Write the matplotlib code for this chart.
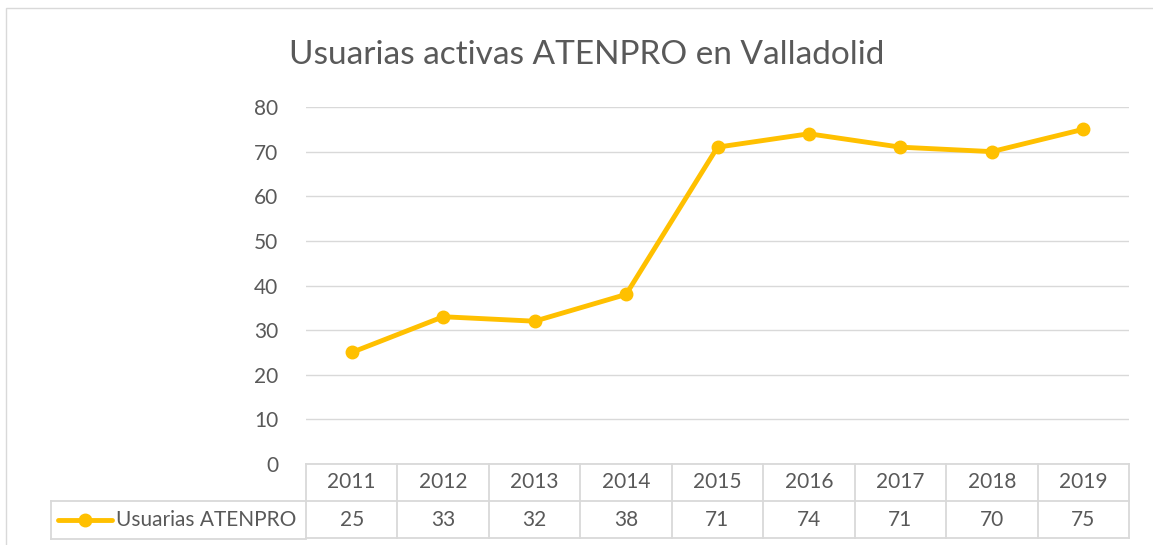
import matplotlib
matplotlib.use('Agg')
import matplotlib.pyplot as plt
import matplotlib.transforms as mtransforms
from matplotlib.lines import Line2D
from matplotlib.patches import Rectangle

years = ['2011', '2012', '2013', '2014', '2015', '2016', '2017', '2018', '2019']
usuarias = [25, 33, 32, 38, 71, 74, 71, 70, 75]
series_name = 'Usuarias ATENPRO'
title = 'Usuarias activas ATENPRO en Valladolid'

W, H = 1153, 545
plt.rcParams['font.family'] = ['Lato', 'DejaVu Sans']
text_col = '#595959'
grid_col = '#d9d9d9'
line_col = '#FFC000'

fig = plt.figure(figsize=(W / 100, H / 100), dpi=100)
fig.patches.append(Rectangle((6 / W, -0.1), 1.2, 1 - 8 / H + 0.1, transform=fig.transFigure,
                             fill=False, edgecolor=grid_col, lw=1))

# plot area in pixels
left, right, top, bottom = 306, 1129, 107, 464
ax = fig.add_axes((left / W, 1 - bottom / H, (right - left) / W, (bottom - top) / H))

x = list(range(len(years)))
ax.plot(x, usuarias, color=line_col, lw=3.5, marker='o', markersize=9, solid_capstyle='round', zorder=3)
ax.set_xlim(-0.5, len(years) - 0.5)
ax.set_ylim(0, 80)
ax.set_yticks(range(0, 81, 10))
ax.yaxis.grid(True, color=grid_col, lw=1)
ax.set_axisbelow(True)
ax.set_xticks([])
for s in ax.spines.values():
    s.set_visible(False)
ax.tick_params(axis='y', length=0, pad=20, labelsize=15, labelcolor=text_col)

fig.text(587 / W, 1 - 55 / H, title, ha='center', va='center', fontsize=24, color=text_col)

# data table below the axes
row_h = 37 / (bottom - top)
trans = mtransforms.blended_transform_factory(ax.transData, ax.transAxes)
lw_t = 1.3
for i in range(len(years) + 1):
    ax.add_line(Line2D([i - 0.5, i - 0.5], [0, -2 * row_h], transform=trans, color=grid_col, lw=lw_t, clip_on=False))
for yy in (0, -row_h, -2 * row_h):
    ax.add_line(Line2D([-0.5, len(years) - 0.5], [yy, yy], transform=trans, color=grid_col, lw=lw_t, clip_on=False))
for i, (yr, v) in enumerate(zip(years, usuarias)):
    ax.text(i, -0.5 * row_h, yr, transform=trans, ha='center', va='center', fontsize=15, color=text_col)
    ax.text(i, -1.5 * row_h, str(v), transform=trans, ha='center', va='center', fontsize=15, color=text_col)

# legend cell
lx0 = 51 / W
y1 = 1 - 501 / H
y2 = 1 - 539 / H
fig.add_artist(Line2D([lx0, left / W], [y1, y1], transform=fig.transFigure, color=grid_col, lw=lw_t))
fig.add_artist(Line2D([lx0, left / W], [y2, y2], transform=fig.transFigure, color=grid_col, lw=lw_t))
fig.add_artist(Line2D([lx0, lx0], [y1, y2], transform=fig.transFigure, color=grid_col, lw=lw_t))
ym = (y1 + y2) / 2
fig.add_artist(Line2D([58 / W, 112 / W], [ym, ym], transform=fig.transFigure, color=line_col, lw=3.5,
                      solid_capstyle='round'))
fig.add_artist(Line2D([85 / W], [ym], transform=fig.transFigure, color=line_col, marker='o', markersize=9))
fig.text(116 / W, ym, series_name, ha='left', va='center', fontsize=15, color=text_col)

fig.savefig('out.png', dpi=100)
